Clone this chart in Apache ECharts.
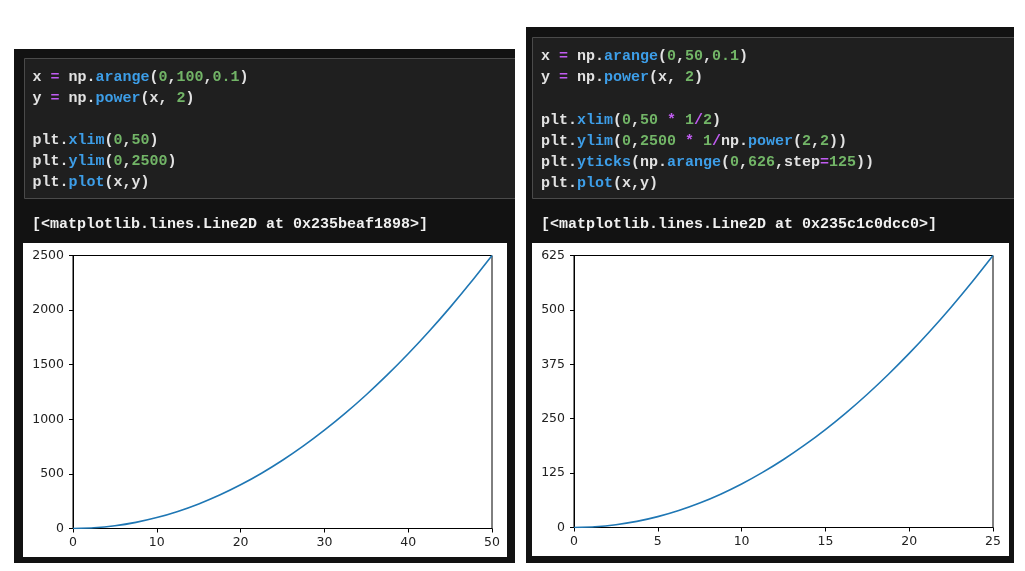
<!DOCTYPE html>
<html>
<head>
<meta charset="utf-8">
<script src="https://cdn.jsdelivr.net/npm/echarts@6/dist/echarts.min.js"></script>
<style>
html,body{margin:0;padding:0;background:#fff;}
#c{width:1025px;height:571px;}
</style>
</head>
<body>
<div id="c"></div>
<script>
// ---- data ----
const leftX = [0, 2.5, 5, 7.5, 10, 12.5, 15, 17.5, 20, 22.5, 25, 27.5, 30, 32.5, 35, 37.5, 40, 42.5, 45, 47.5, 50];
const leftY = [0, 6.25, 25, 56.25, 100, 156.25, 225, 306.25, 400, 506.25, 625, 756.25, 900, 1056.25, 1225, 1406.25, 1600, 1806.25, 2025, 2256.25, 2500];
const rightX = [0, 1.25, 2.5, 3.75, 5, 6.25, 7.5, 8.75, 10, 11.25, 12.5, 13.75, 15, 16.25, 17.5, 18.75, 20, 21.25, 22.5, 23.75, 25];
const rightY = [0, 1.5625, 6.25, 14.0625, 25, 39.0625, 56.25, 76.5625, 100, 126.5625, 156.25, 189.0625, 225, 264.0625, 306.25, 351.5625, 400, 451.5625, 506.25, 564.0625, 625];
const leftXTicks = [0, 10, 20, 30, 40, 50];
const leftYTicks = [0, 500, 1000, 1500, 2000, 2500];
const rightXTicks = [0, 5, 10, 15, 20, 25];
const rightYTicks = [0, 125, 250, 375, 500, 625];

const leftCode = [
  '{t|x} {p|=} {t|np.}{b|arange}{t|(}{g|0}{t|,}{g|100}{t|,}{g|0.1}{t|)}',
  '{t|y} {p|=} {t|np.}{b|power}{t|(x, }{g|2}{t|)}',
  '',
  '{t|plt.}{b|xlim}{t|(}{g|0}{t|,}{g|50}{t|)}',
  '{t|plt.}{b|ylim}{t|(}{g|0}{t|,}{g|2500}{t|)}',
  '{t|plt.}{b|plot}{t|(x,y)}'
];
const rightCode = [
  '{t|x} {p|=} {t|np.}{b|arange}{t|(}{g|0}{t|,}{g|50}{t|,}{g|0.1}{t|)}',
  '{t|y} {p|=} {t|np.}{b|power}{t|(x, }{g|2}{t|)}',
  '',
  '{t|plt.}{b|xlim}{t|(}{g|0}{t|,}{g|50} {p|*} {g|1}{p|/}{g|2}{t|)}',
  '{t|plt.}{b|ylim}{t|(}{g|0}{t|,}{g|2500} {p|*} {g|1}{p|/}{t|np.}{b|power}{t|(}{g|2}{t|,}{g|2}{t|))}',
  '{t|plt.}{b|yticks}{t|(np.}{b|arange}{t|(}{g|0}{t|,}{g|626}{t|,step}{p|=}{g|125}{t|))}',
  '{t|plt.}{b|plot}{t|(x,y)}'
];
const leftOut = '[<matplotlib.lines.Line2D at 0x235beaf1898>]';
const rightOut = '[<matplotlib.lines.Line2D at 0x235c1c0dcc0>]';

// ---- build ----
const FONT = 'bold 15px "Liberation Mono", "DejaVu Sans Mono", monospace';
const rich = {
  t: {fill: '#e2e2e2', font: FONT},
  p: {fill: '#c15cf2', font: FONT},
  b: {fill: '#3d9ee8', font: FONT},
  g: {fill: '#72b567', font: FONT}
};
function codeLines(lines, x, y0, step) {
  const out = [];
  lines.forEach((l, i) => {
    if (!l) return;
    out.push({
      type: 'text', z: 5,
      style: {x: x, y: y0 + i * step, text: l, rich: rich, font: FONT, fill: '#e2e2e2', verticalAlign: 'middle'}
    });
  });
  return out;
}

const graphics = [
  // left panel
  {type: 'rect', z: -10, shape: {x: 14, y: 49, width: 501, height: 514}, style: {fill: '#121212'}},
  {type: 'rect', z: -9, shape: {x: 24.5, y: 58.5, width: 495, height: 140}, style: {fill: '#1f1f1f', stroke: '#4a4a4a', lineWidth: 1}},
  {type: 'rect', z: -9, shape: {x: 23, y: 243, width: 484, height: 314}, style: {fill: '#ffffff'}},
  // right panel
  {type: 'rect', z: -10, shape: {x: 526, y: 27, width: 488, height: 536}, style: {fill: '#121212'}},
  {type: 'rect', z: -9, shape: {x: 532.5, y: 37.5, width: 490, height: 161}, style: {fill: '#1f1f1f', stroke: '#4a4a4a', lineWidth: 1}},
  {type: 'rect', z: -9, shape: {x: 532, y: 243, width: 477, height: 313}, style: {fill: '#ffffff'}},
  // mask beyond panel edges for code box overflow
  {type: 'rect', z: -8, shape: {x: 515, y: 40, width: 11, height: 180}, style: {fill: '#ffffff'}},
  {type: 'rect', z: -8, shape: {x: 1014, y: 20, width: 11, height: 200}, style: {fill: '#ffffff'}},
  {type: 'text', z: 5, style: {x: 32, y: 224, text: leftOut, font: FONT, fill: '#f0f0f0', verticalAlign: 'middle'}},
  {type: 'text', z: 5, style: {x: 541, y: 224, text: rightOut, font: FONT, fill: '#f0f0f0', verticalAlign: 'middle'}}
].concat(codeLines(leftCode, 32.5, 77.5, 21)).concat(codeLines(rightCode, 541, 56.5, 21.2));

const axisCommon = {
  axisLine: {show: true, lineStyle: {color: '#000', width: 1}},
  axisTick: {show: true, inside: false, length: 4, lineStyle: {color: '#000', width: 1}},
  splitLine: {show: false},
  axisLabel: {color: '#222', fontFamily: '"DejaVu Sans", sans-serif', fontSize: 12.5,
              formatter: function (v) { return String(v); }}
};

function ax(idx, ticks, margin) {
  return Object.assign({}, axisCommon, {
    type: 'value', gridIndex: idx, min: ticks[0], max: ticks[ticks.length - 1],
    interval: ticks[1] - ticks[0],
    axisLabel: Object.assign({}, axisCommon.axisLabel, {margin: margin, showMaxLabel: true, showMinLabel: true})
  });
}
function pairs(xs, ys) { return xs.map((x, i) => [x, ys[i]]); }

const chart = echarts.init(document.getElementById('c'), null, {renderer: 'canvas'});
chart.setOption({
  animation: false,
  backgroundColor: '#ffffff',
  graphic: graphics,
  grid: [
    {left: 73, top: 255.5, width: 419, height: 273, show: true, borderColor: '#000', borderWidth: 1, backgroundColor: 'transparent', containLabel: false},
    {left: 574, top: 255.5, width: 419, height: 272, show: true, borderColor: '#000', borderWidth: 1, backgroundColor: 'transparent', containLabel: false}
  ],
  xAxis: [ax(0, leftXTicks, 8), ax(1, rightXTicks, 8)],
  yAxis: [ax(0, leftYTicks, 9), ax(1, rightYTicks, 9)],
  series: [
    {type: 'line', xAxisIndex: 0, yAxisIndex: 0, data: pairs(leftX, leftY), showSymbol: false, smooth: 0.2,
     lineStyle: {color: '#1f77b4', width: 1.6}, clip: true},
    {type: 'line', xAxisIndex: 1, yAxisIndex: 1, data: pairs(rightX, rightY), showSymbol: false, smooth: 0.2,
     lineStyle: {color: '#1f77b4', width: 1.6}, clip: true}
  ]
});
</script>
</body>
</html>
